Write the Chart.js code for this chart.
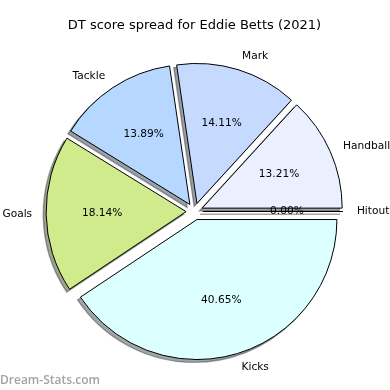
<!DOCTYPE html>
<html>
<head>
<meta charset="utf-8">
<script src="https://cdn.jsdelivr.net/npm/chart.js@4.4.0/dist/chart.umd.min.js"></script>
<style>
  body { margin: 0; background: #fff; }
  #wrap { position: relative; width: 390px; height: 390px; }
  #mark {
    position: absolute; left: 0; top: 371px;
    font: 600 12px "Open Sans", sans-serif; color: #a3a3a3;
  }
</style>
</head>
<body>
<div id="wrap">
  <canvas id="pieChart" width="390" height="390"></canvas>
  <div id="mark">Dream-Stats.com</div>
</div>
<script>
// slices in drawing order (clockwise from 3 o'clock)
const categories = ['Kicks', 'Goals', 'Tackle', 'Mark', 'Handball', 'Hitout'];
const shares = [40.65, 18.14, 13.89, 14.11, 13.21, 0.00];
const sliceColors = ['#dcffff', '#d0eb8b', '#b6d7ff', '#c6d9ff', '#eaf0ff', '#f4f8ff'];

const explode = 0.06;

function shadowOf(hex) {
  const n = parseInt(hex.slice(1), 16);
  const r = Math.round(((n >> 16) & 255) * 0.3);
  const g = Math.round(((n >> 8) & 255) * 0.3);
  const b = Math.round((n & 255) * 0.3);
  return `rgba(${r},${g},${b},0.5)`;
}

function wedge(ctx, r, a0, a1) {
  ctx.beginPath();
  ctx.moveTo(0, 0);
  if (a1 - a0 > 1e-6) {
    ctx.arc(0, 0, r, a0, a1);
  } else {
    ctx.lineTo(Math.cos(a0) * r, Math.sin(a0) * r);
  }
  ctx.closePath();
}

const explodedPie = {
  id: 'explodedPie',
  beforeDatasetsDraw(chart) {
    const ctx = chart.ctx;
    const arcs = chart.getDatasetMeta(0).data;
    arcs.forEach((arc, i) => {
      const { x, y, startAngle, endAngle, outerRadius } = arc.getProps(['x', 'y', 'startAngle', 'endAngle', 'outerRadius'], true);
      const mid = (startAngle + endAngle) / 2;
      const cx = x + Math.cos(mid) * explode * outerRadius;
      const cy = y + Math.sin(mid) * explode * outerRadius;
      const sh = 0.02 * outerRadius;

      ctx.save();
      ctx.translate(cx - sh, cy + sh);
      wedge(ctx, outerRadius, startAngle, endAngle);
      ctx.fillStyle = shadowOf(sliceColors[i]);
      ctx.strokeStyle = shadowOf(sliceColors[i]);
      ctx.lineWidth = 1.4;
      ctx.fill();
      ctx.stroke();
      ctx.restore();

      ctx.save();
      ctx.translate(cx, cy);
      wedge(ctx, outerRadius, startAngle, endAngle);
      ctx.fillStyle = sliceColors[i];
      ctx.strokeStyle = '#000';
      ctx.lineWidth = 1;
      ctx.fill();
      ctx.stroke();
      ctx.restore();
    });

    ctx.save();
    ctx.fillStyle = '#000';
    ctx.textBaseline = 'middle';
    ctx.font = '10.6px "DejaVu Sans"';
    arcs.forEach((arc, i) => {
      const { x, y, startAngle, endAngle, outerRadius } = arc.getProps(['x', 'y', 'startAngle', 'endAngle', 'outerRadius'], true);
      const mid = (startAngle + endAngle) / 2;
      const dx = Math.cos(mid), dy = Math.sin(mid);
      const lr = (explode + 1.1) * outerRadius;
      ctx.textAlign = dx > 1e-9 ? 'left' : 'right';
      ctx.fillText(categories[i], x + dx * lr, y + dy * lr);
      const pr = (explode + 0.6) * outerRadius;
      ctx.textAlign = 'center';
      ctx.fillText(shares[i].toFixed(2) + '%', x + dx * pr, y + dy * pr);
    });
    ctx.restore();
    return false;
  }
};

new Chart(document.getElementById('pieChart'), {
  type: 'pie',
  data: {
    labels: categories,
    datasets: [{
      data: shares,
      backgroundColor: sliceColors,
      borderColor: '#000',
      borderWidth: 1
    }]
  },
  options: {
    responsive: false,
    animation: false,
    rotation: 90,
    radius: 140,
    layout: { padding: { top: 0, right: 1, bottom: 0.8, left: 0 } },
    plugins: {
      legend: { display: false },
      tooltip: { enabled: false },
      title: {
        display: true,
        text: 'DT score spread for Eddie Betts (2021)',
        color: '#000',
        font: { family: 'DejaVu Sans', size: 13, weight: 'normal' },
        padding: { top: 18.2, bottom: 0 }
      }
    }
  },
  plugins: [explodedPie]
});
</script>
</body>
</html>
